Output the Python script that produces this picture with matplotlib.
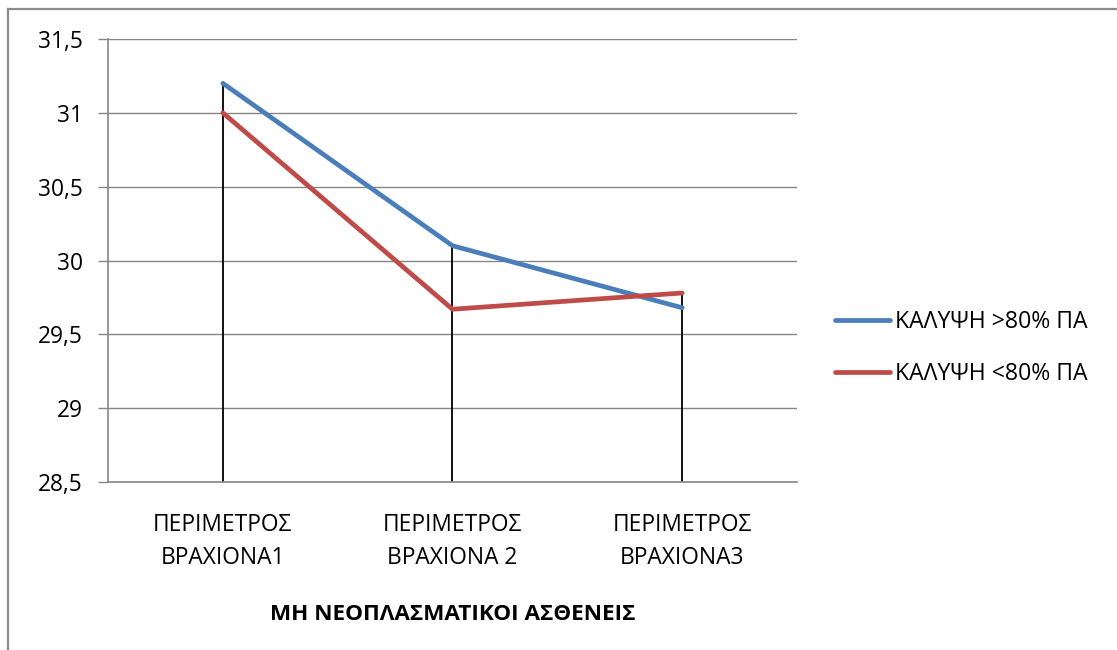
import matplotlib
matplotlib.use("Agg")
import matplotlib.pyplot as plt
from matplotlib.lines import Line2D
from matplotlib.ticker import FuncFormatter, MultipleLocator

plt.rcParams['font.family'] = ['Open Sans', 'DejaVu Sans']

# Data
categories = ["ΠΕΡΙΜΕΤΡΟΣ\nΒΡΑΧΙΟΝΑ1", "ΠΕΡΙΜΕΤΡΟΣ\nΒΡΑΧΙΟΝΑ 2", "ΠΕΡΙΜΕΤΡΟΣ\nΒΡΑΧΙΟΝΑ3"]
series_names = ["ΚΑΛΥΨΗ >80% ΠΑ", "ΚΑΛΥΨΗ <80% ΠΑ"]
above_80 = [31.2, 30.1, 29.68]
below_80 = [31.0, 29.67, 29.78]
y_min, y_max, y_step = 28.5, 31.5, 0.5
x_title = "ΜΗ ΝΕΟΠΛΑΣΜΑΤΙΚΟΙ ΑΣΘΕΝΕΙΣ"

W, H = 1117, 650
fig = plt.figure(figsize=(W / 100, H / 100), dpi=100)
fig.patch.set_facecolor("white")

# Outer chart frame (left and top edges visible)
frame_col = "#8c8c8c"
fig.add_artist(Line2D([8 / W, 8 / W], [0, 1 - 9 / H], transform=fig.transFigure,
                      color=frame_col, lw=1.6))
fig.add_artist(Line2D([8 / W, 1], [1 - 9 / H, 1 - 9 / H], transform=fig.transFigure,
                      color=frame_col, lw=1.6))

left, right, top, bottom = 108, 797, 39, 482
ax = fig.add_axes([left / W, 1 - bottom / H, (right - left) / W, (bottom - top) / H])

x = list(range(len(categories)))
ax.set_xlim(-0.5, len(categories) - 0.5)
ax.set_ylim(y_min, y_max)

grid_col = "#868686"
ax.yaxis.set_major_locator(MultipleLocator(y_step))
ax.grid(axis="y", color=grid_col, lw=1.0)
ax.set_axisbelow(True)

# Drop lines from the higher series point down to the axis
tops = [max(a, b) for a, b in zip(above_80, below_80)]
ax.vlines(x, y_min, tops, color="black", lw=1.3, zorder=2)

ax.plot(x, above_80, color="#4A7EBB", lw=3.4, solid_capstyle="round",
        label=series_names[0], zorder=3)
ax.plot(x, below_80, color="#BE4B48", lw=3.4, solid_capstyle="round",
        label=series_names[1], zorder=3)

for s in ["top", "right"]:
    ax.spines[s].set_visible(False)
for s in ["left", "bottom"]:
    ax.spines[s].set_color(grid_col)
    ax.spines[s].set_linewidth(1.2)

ax.yaxis.set_major_formatter(FuncFormatter(lambda v, p: f"{v:g}".replace(".", ",")))
ax.tick_params(axis="y", length=7, width=1.0, color=grid_col, labelsize=16.4, pad=11)
ax.set_xticks(x)
ax.set_xticklabels(categories, linespacing=1.55)
ax.tick_params(axis="x", length=0, labelsize=16.4, pad=22)

ax.set_xlabel(x_title, fontsize=16.2, fontweight="bold", labelpad=24)

leg = ax.legend(loc="center left", bbox_to_anchor=(835 / W, 1 - 348 / H),
                bbox_transform=fig.transFigure, frameon=False, borderpad=0,
                borderaxespad=0, fontsize=16.6, handlelength=2.4,
                handletextpad=0.2, labelspacing=1.2)

fig.savefig("out.png", dpi=100, facecolor="white")
